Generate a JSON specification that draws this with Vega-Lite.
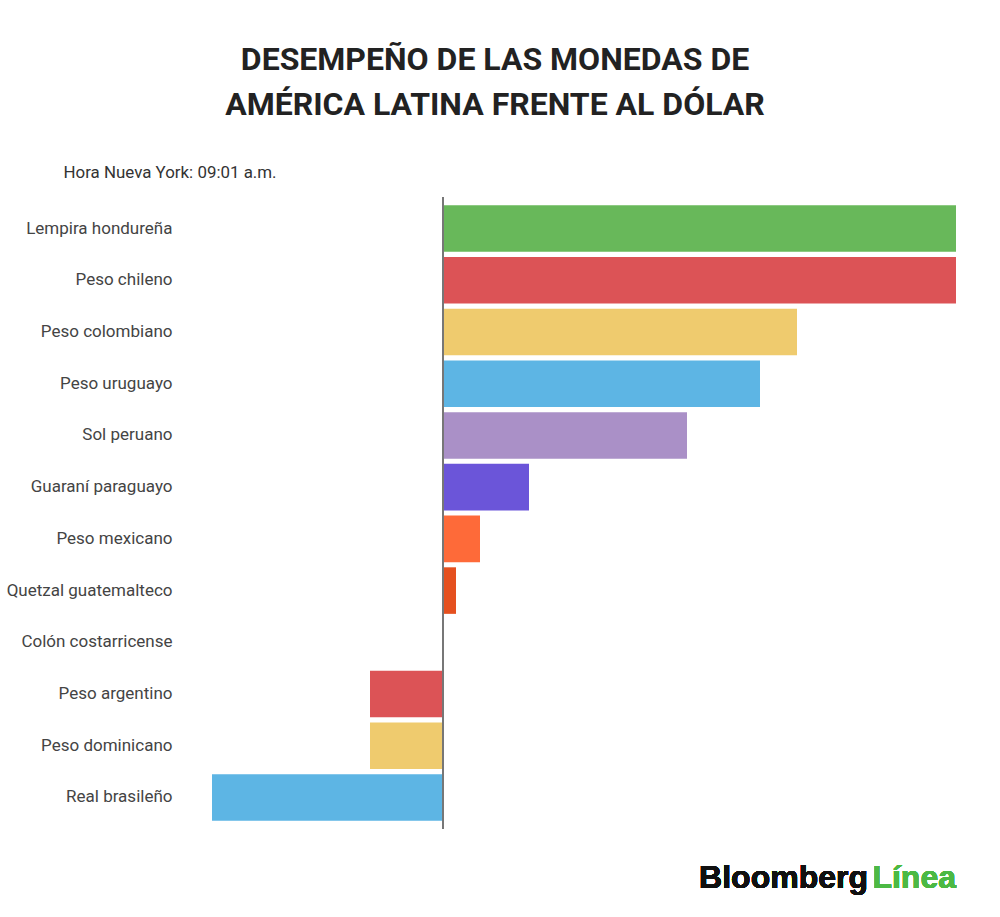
{
  "$schema": "https://vega.github.io/schema/vega-lite/v6.json",
  "autosize": {"type": "none"},
  "width": 744,
  "height": 632,
  "padding": {"left": 212, "top": 197, "right": 44, "bottom": 88},
  "background": "white",
  "title": {
    "text": ["DESEMPEÑO DE LAS MONEDAS DE", "AMÉRICA LATINA FRENTE AL DÓLAR"],
    "font": "Roboto",
    "fontSize": 32,
    "fontWeight": "bold",
    "color": "#222222",
    "lineHeight": 45,
    "anchor": "middle",
    "dx": -89,
    "offset": 41
  },
  "data": {
    "values": [
      {"moneda": "Lempira hondureña", "cambio": 1.026},
      {"moneda": "Peso chileno", "cambio": 1.026},
      {"moneda": "Peso colombiano", "cambio": 0.708},
      {"moneda": "Peso uruguayo", "cambio": 0.634},
      {"moneda": "Sol peruano", "cambio": 0.488},
      {"moneda": "Guaraní paraguayo", "cambio": 0.172},
      {"moneda": "Peso mexicano", "cambio": 0.074},
      {"moneda": "Quetzal guatemalteco", "cambio": 0.026},
      {"moneda": "Colón costarricense", "cambio": 0},
      {"moneda": "Peso argentino", "cambio": -0.146},
      {"moneda": "Peso dominicano", "cambio": -0.146},
      {"moneda": "Real brasileño", "cambio": -0.462}
    ]
  },
  "encoding": {
    "y": {
      "field": "moneda",
      "type": "nominal",
      "sort": null,
      "scale": {"paddingInner": 0.1, "paddingOuter": 0.16},
      "axis": {
        "domain": false,
        "ticks": false,
        "labelFont": "Roboto",
        "labelFontSize": 17,
        "labelColor": "#444444",
        "labelPadding": 40,
        "title": "Hora Nueva York: 09:01 a.m.",
        "titleFont": "Roboto",
        "titleFontSize": 16.9,
        "titleFontWeight": "normal",
        "titleColor": "#333333",
        "titleAngle": 0,
        "titleAlign": "left",
        "titleBaseline": "alphabetic",
        "titleX": -149,
        "titleY": -20
      }
    }
  },
  "layer": [
    {
      "mark": {"type": "bar"},
      "encoding": {
        "x": {
          "field": "cambio",
          "type": "quantitative",
          "scale": {"domain": [-0.462, 1.026], "nice": false, "zero": false},
          "axis": null
        },
        "color": {
          "field": "moneda",
          "type": "nominal",
          "legend": null,
          "scale": {
            "domain": ["Lempira hondureña", "Peso chileno", "Peso colombiano", "Peso uruguayo", "Sol peruano", "Guaraní paraguayo", "Peso mexicano", "Quetzal guatemalteco", "Colón costarricense", "Peso argentino", "Peso dominicano", "Real brasileño"],
            "range": ["#68b85a", "#dc5356", "#efcb6e", "#5db5e4", "#aa90c7", "#6b55d9", "#fe6a39", "#e5501f", "#5db5e4", "#dc5356", "#efcb6e", "#5db5e4"]
          }
        }
      }
    },
    {
      "mark": {"type": "rule", "color": "#777777", "strokeWidth": 1.5},
      "encoding": {
        "x": {"datum": 0, "type": "quantitative"},
        "y": null
      }
    },
    {
      "mark": {"type": "text", "font": "Liberation Sans", "fontSize": 32, "fontWeight": "bold", "color": "#4cb944", "align": "right", "baseline": "alphabetic", "dy": 91},
      "encoding": {
        "x": {"datum": 1.026, "type": "quantitative"},
        "y": {"datum": "Real brasileño", "type": "nominal"},
        "text": {"value": "Línea"}
      }
    },
    {
      "mark": {"type": "text", "font": "Liberation Sans", "fontSize": 32, "fontWeight": "bold", "color": "#111111", "align": "right", "baseline": "alphabetic", "dx": -88, "dy": 91},
      "encoding": {
        "x": {"datum": 1.026, "type": "quantitative"},
        "y": {"datum": "Real brasileño", "type": "nominal"},
        "text": {"value": "Bloomberg"}
      }
    }
  ],
  "config": {
    "view": {"stroke": null}
  }
}
